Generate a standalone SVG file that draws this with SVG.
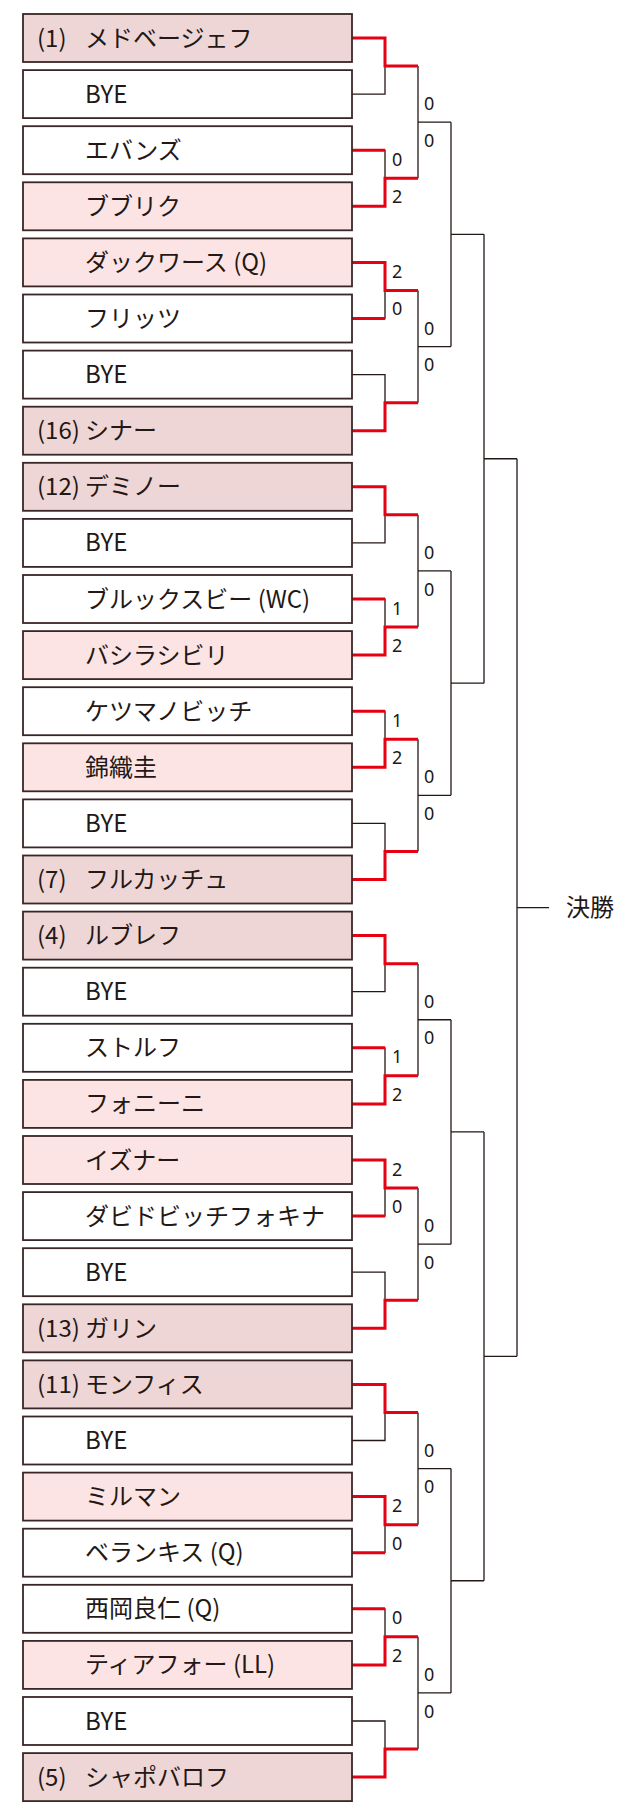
<svg xmlns="http://www.w3.org/2000/svg" width="630" height="1815" viewBox="0 0 630 1815">
<style>
.bx{stroke:#3a2626;stroke-width:1.8}
.lose{fill:#ffffff}
.win{fill:#fde4e4}
.seed{fill:#efd6d6}
.nm{font-family:"Noto Sans CJK JP","Noto Sans",sans-serif;font-size:24px;fill:#231815}
.sc{font-family:"Noto Sans","Noto Sans CJK JP",sans-serif;font-size:18px;fill:#231815}
.blk{fill:none;stroke:#231815;stroke-width:1.3}
.red{fill:none;stroke:#e60012;stroke-width:3;stroke-linejoin:miter}
</style>
<rect width="630" height="1815" fill="#ffffff"/>
<g id="connectors">
<path class="blk" d="M352 38H385V94.1H352M352 150.2H385V206.3H352M352 262.4H385V318.5H352M352 374.6H385V430.7H352M352 486.8H385V542.9H352M352 599H385V655.1H352M352 711.2H385V767.3H352M352 823.4H385V879.5H352M352 935.6H385V991.7H352M352 1047.8H385V1103.9H352M352 1160H385V1216.1H352M352 1272.2H385V1328.3H352M352 1384.4H385V1440.5H352M352 1496.6H385V1552.7H352M352 1608.8H385V1664.9H352M352 1721H385V1777.1H352"/>
<path class="blk" d="M418 66.05V178.25M418 122.15H451M418 290.45V402.65M418 346.55H451M418 514.85V627.05M418 570.95H451M418 739.25V851.45M418 795.35H451M418 963.65V1075.85M418 1019.75H451M418 1188.05V1300.25M418 1244.15H451M418 1412.45V1524.65M418 1468.55H451M418 1636.85V1749.05M418 1692.95H451"/>
<path class="blk" d="M451 122.15V346.55M451 234.35H484M451 570.95V795.35M451 683.15H484M451 1019.75V1244.15M451 1131.95H484M451 1468.55V1692.95M451 1580.75H484"/>
<path class="blk" d="M484 234.35V683.15M484 458.75H517M484 1131.95V1580.75M484 1356.35H517"/>
<path class="blk" d="M517 458.75V1356.35M517 907.55H549"/>
<path class="red" d="M352 38H385V66.05H418"/>
<path class="red" d="M352 150.2H385M352 206.3H385V178.25H418"/>
<path class="red" d="M352 262.4H385V290.45H418M352 318.5H385"/>
<path class="red" d="M352 430.7H385V402.65H418"/>
<path class="red" d="M352 486.8H385V514.85H418"/>
<path class="red" d="M352 599H385M352 655.1H385V627.05H418"/>
<path class="red" d="M352 711.2H385M352 767.3H385V739.25H418"/>
<path class="red" d="M352 879.5H385V851.45H418"/>
<path class="red" d="M352 935.6H385V963.65H418"/>
<path class="red" d="M352 1047.8H385M352 1103.9H385V1075.85H418"/>
<path class="red" d="M352 1160H385V1188.05H418M352 1216.1H385"/>
<path class="red" d="M352 1328.3H385V1300.25H418"/>
<path class="red" d="M352 1384.4H385V1412.45H418"/>
<path class="red" d="M352 1496.6H385V1524.65H418M352 1552.7H385"/>
<path class="red" d="M352 1608.8H385M352 1664.9H385V1636.85H418"/>
<path class="red" d="M352 1777.1H385V1749.05H418"/>
</g>
<g id="scores">
<text class="sc" x="392" y="165.75">0</text><text class="sc" x="392" y="203.25">2</text>
<text class="sc" x="392" y="277.95">2</text><text class="sc" x="392" y="315.45">0</text>
<text class="sc" x="392" y="614.55">1</text><text class="sc" x="392" y="652.05">2</text>
<text class="sc" x="392" y="726.75">1</text><text class="sc" x="392" y="764.25">2</text>
<text class="sc" x="392" y="1063.35">1</text><text class="sc" x="392" y="1100.85">2</text>
<text class="sc" x="392" y="1175.55">2</text><text class="sc" x="392" y="1213.05">0</text>
<text class="sc" x="392" y="1512.15">2</text><text class="sc" x="392" y="1549.65">0</text>
<text class="sc" x="392" y="1624.35">0</text><text class="sc" x="392" y="1661.85">2</text>
<text class="sc" x="424" y="110.15">0</text><text class="sc" x="424" y="146.85">0</text>
<text class="sc" x="424" y="334.55">0</text><text class="sc" x="424" y="371.25">0</text>
<text class="sc" x="424" y="558.95">0</text><text class="sc" x="424" y="595.65">0</text>
<text class="sc" x="424" y="783.35">0</text><text class="sc" x="424" y="820.05">0</text>
<text class="sc" x="424" y="1007.75">0</text><text class="sc" x="424" y="1044.45">0</text>
<text class="sc" x="424" y="1232.15">0</text><text class="sc" x="424" y="1268.85">0</text>
<text class="sc" x="424" y="1456.55">0</text><text class="sc" x="424" y="1493.25">0</text>
<text class="sc" x="424" y="1680.95">0</text><text class="sc" x="424" y="1717.65">0</text>
</g>
<g id="p0"><rect class="bx seed" x="23" y="14" width="329" height="48"/><text class="nm" x="37" y="46.5">(1)</text><text class="nm" x="85" y="46.5">メドベージェフ</text></g>
<g id="p1"><rect class="bx lose" x="23" y="70.1" width="329" height="48"/><text class="nm" x="85" y="102.6">BYE</text></g>
<g id="p2"><rect class="bx lose" x="23" y="126.2" width="329" height="48"/><text class="nm" x="85" y="158.7">エバンズ</text></g>
<g id="p3"><rect class="bx win" x="23" y="182.3" width="329" height="48"/><text class="nm" x="85" y="214.8">ブブリク</text></g>
<g id="p4"><rect class="bx win" x="23" y="238.4" width="329" height="48"/><text class="nm" x="85" y="270.9">ダックワース (Q)</text></g>
<g id="p5"><rect class="bx lose" x="23" y="294.5" width="329" height="48"/><text class="nm" x="85" y="327">フリッツ</text></g>
<g id="p6"><rect class="bx lose" x="23" y="350.6" width="329" height="48"/><text class="nm" x="85" y="383.1">BYE</text></g>
<g id="p7"><rect class="bx seed" x="23" y="406.7" width="329" height="48"/><text class="nm" x="37" y="439.2">(16)</text><text class="nm" x="85" y="439.2">シナー</text></g>
<g id="p8"><rect class="bx seed" x="23" y="462.8" width="329" height="48"/><text class="nm" x="37" y="495.3">(12)</text><text class="nm" x="85" y="495.3">デミノー</text></g>
<g id="p9"><rect class="bx lose" x="23" y="518.9" width="329" height="48"/><text class="nm" x="85" y="551.4">BYE</text></g>
<g id="p10"><rect class="bx lose" x="23" y="575" width="329" height="48"/><text class="nm" x="85" y="607.5">ブルックスビー (WC)</text></g>
<g id="p11"><rect class="bx win" x="23" y="631.1" width="329" height="48"/><text class="nm" x="85" y="663.6">バシラシビリ</text></g>
<g id="p12"><rect class="bx lose" x="23" y="687.2" width="329" height="48"/><text class="nm" x="85" y="719.7">ケツマノビッチ</text></g>
<g id="p13"><rect class="bx win" x="23" y="743.3" width="329" height="48"/><text class="nm" x="85" y="775.8">錦織圭</text></g>
<g id="p14"><rect class="bx lose" x="23" y="799.4" width="329" height="48"/><text class="nm" x="85" y="831.9">BYE</text></g>
<g id="p15"><rect class="bx seed" x="23" y="855.5" width="329" height="48"/><text class="nm" x="37" y="888">(7)</text><text class="nm" x="85" y="888">フルカッチュ</text></g>
<g id="p16"><rect class="bx seed" x="23" y="911.6" width="329" height="48"/><text class="nm" x="37" y="944.1">(4)</text><text class="nm" x="85" y="944.1">ルブレフ</text></g>
<g id="p17"><rect class="bx lose" x="23" y="967.7" width="329" height="48"/><text class="nm" x="85" y="1000.2">BYE</text></g>
<g id="p18"><rect class="bx lose" x="23" y="1023.8" width="329" height="48"/><text class="nm" x="85" y="1056.3">ストルフ</text></g>
<g id="p19"><rect class="bx win" x="23" y="1079.9" width="329" height="48"/><text class="nm" x="85" y="1112.4">フォニーニ</text></g>
<g id="p20"><rect class="bx win" x="23" y="1136" width="329" height="48"/><text class="nm" x="85" y="1168.5">イズナー</text></g>
<g id="p21"><rect class="bx lose" x="23" y="1192.1" width="329" height="48"/><text class="nm" x="85" y="1224.6">ダビドビッチフォキナ</text></g>
<g id="p22"><rect class="bx lose" x="23" y="1248.2" width="329" height="48"/><text class="nm" x="85" y="1280.7">BYE</text></g>
<g id="p23"><rect class="bx seed" x="23" y="1304.3" width="329" height="48"/><text class="nm" x="37" y="1336.8">(13)</text><text class="nm" x="85" y="1336.8">ガリン</text></g>
<g id="p24"><rect class="bx seed" x="23" y="1360.4" width="329" height="48"/><text class="nm" x="37" y="1392.9">(11)</text><text class="nm" x="85" y="1392.9">モンフィス</text></g>
<g id="p25"><rect class="bx lose" x="23" y="1416.5" width="329" height="48"/><text class="nm" x="85" y="1449">BYE</text></g>
<g id="p26"><rect class="bx win" x="23" y="1472.6" width="329" height="48"/><text class="nm" x="85" y="1505.1">ミルマン</text></g>
<g id="p27"><rect class="bx lose" x="23" y="1528.7" width="329" height="48"/><text class="nm" x="85" y="1561.2">ベランキス (Q)</text></g>
<g id="p28"><rect class="bx lose" x="23" y="1584.8" width="329" height="48"/><text class="nm" x="85" y="1617.3">西岡良仁 (Q)</text></g>
<g id="p29"><rect class="bx win" x="23" y="1640.9" width="329" height="48"/><text class="nm" x="85" y="1673.4">ティアフォー (LL)</text></g>
<g id="p30"><rect class="bx lose" x="23" y="1697" width="329" height="48"/><text class="nm" x="85" y="1729.5">BYE</text></g>
<g id="p31"><rect class="bx seed" x="23" y="1753.1" width="329" height="48"/><text class="nm" x="37" y="1785.6">(5)</text><text class="nm" x="85" y="1785.6">シャポバロフ</text></g>
<g id="final"><text class="nm" x="566" y="916">決勝</text></g>
</svg>
